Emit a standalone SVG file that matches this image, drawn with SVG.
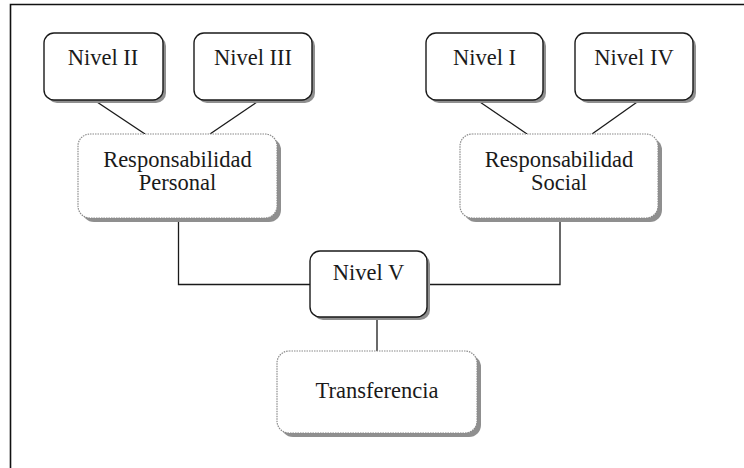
<svg xmlns="http://www.w3.org/2000/svg" width="744" height="468" viewBox="0 0 744 468">
<style>
.sh{fill:#8f8f8f}
.solid{fill:#fff;stroke:#1a1a1a;stroke-width:1.4}
.dot{fill:#fff;stroke:#8a8a8a;stroke-width:1.2;stroke-dasharray:1.5 1}
text{font-family:"Liberation Serif","Times New Roman",serif;font-size:22.5px;fill:#1a1a1a;text-anchor:middle}
.ln{stroke:#1a1a1a;stroke-width:1.3;fill:none}
</style>
<rect width="744" height="468" fill="#fff"/>
<path d="M10.5 468 V4.5 H744" fill="none" stroke="#111" stroke-width="1.6"/>
<g id="connectors">
<line class="ln" x1="94" y1="100" x2="145" y2="134"/>
<line class="ln" x1="260" y1="100" x2="210" y2="134"/>
<line class="ln" x1="477" y1="100" x2="527" y2="134"/>
<line class="ln" x1="640" y1="100" x2="592" y2="134"/>
<polyline class="ln" points="178.5,218 178.5,284.5 310,284.5"/>
<polyline class="ln" points="560,218 560,284.5 427,284.5"/>
<line class="ln" x1="377" y1="317" x2="377" y2="351"/>
</g>
<g id="nivel2">
<rect class="sh" x="47" y="36" width="119" height="67" rx="10"/>
<rect class="solid" x="44" y="33" width="119" height="67" rx="10"/>
<text x="103" y="65">Nivel II</text>
</g>
<g id="nivel3">
<rect class="sh" x="197" y="36" width="118" height="67" rx="10"/>
<rect class="solid" x="194" y="33" width="118" height="67" rx="10"/>
<text x="253" y="65">Nivel III</text>
</g>
<g id="nivel1">
<rect class="sh" x="429" y="36" width="117" height="67" rx="10"/>
<rect class="solid" x="426" y="33" width="117" height="67" rx="10"/>
<text x="484.5" y="65">Nivel I</text>
</g>
<g id="nivel4">
<rect class="sh" x="578" y="36" width="118" height="67" rx="10"/>
<rect class="solid" x="575" y="33" width="118" height="67" rx="10"/>
<text x="634" y="65">Nivel IV</text>
</g>
<g id="respPersonal">
<rect class="sh" x="82" y="138" width="199" height="84" rx="12"/>
<rect class="dot" x="78" y="134" width="199" height="84" rx="12"/>
<text x="177.5" y="167">Responsabilidad</text>
<text x="177.5" y="190">Personal</text>
</g>
<g id="respSocial">
<rect class="sh" x="464" y="138" width="198" height="84" rx="12"/>
<rect class="dot" x="460" y="134" width="198" height="84" rx="12"/>
<text x="559" y="167">Responsabilidad</text>
<text x="559" y="190">Social</text>
</g>
<g id="nivel5">
<rect class="sh" x="313" y="254" width="117" height="66" rx="10"/>
<rect class="solid" x="310" y="251" width="117" height="66" rx="10"/>
<text x="368.5" y="280">Nivel V</text>
</g>
<g id="transferencia">
<rect class="sh" x="281" y="355" width="200" height="82" rx="12"/>
<rect class="dot" x="277" y="351" width="200" height="82" rx="12"/>
<text x="377" y="398">Transferencia</text>
</g>
</svg>
